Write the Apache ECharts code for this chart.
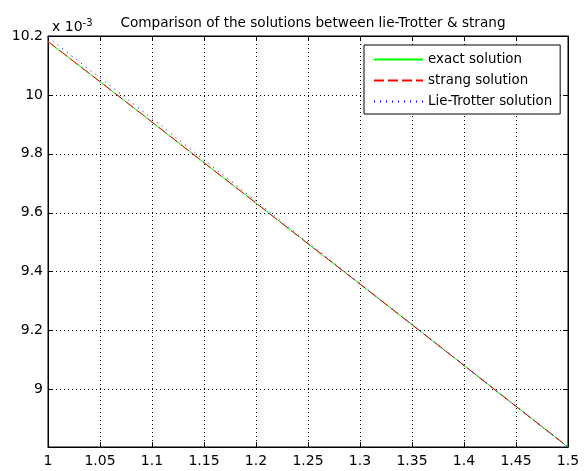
<!DOCTYPE html>
<html>
<head>
<meta charset="utf-8">
<script src="https://cdn.jsdelivr.net/npm/echarts@6/dist/echarts.min.js"></script>
<style>
html,body{margin:0;padding:0;background:#fff;}
#chart{width:587px;height:471px;}
</style>
</head>
<body>
<div id="chart"></div>
<script>
// x values
var xValues = [1, 1.05, 1.1, 1.15, 1.2, 1.25, 1.3, 1.35, 1.4, 1.45, 1.5];
// values in units of 1e-3
var exactSolution = [10.181, 10.045, 9.908, 9.770, 9.633, 9.495, 9.358, 9.220, 9.082, 8.943, 8.805];
var strangSolution = [10.181, 10.045, 9.908, 9.770, 9.633, 9.495, 9.358, 9.220, 9.082, 8.943, 8.805];
var lieTrotterSolution = [10.195, 10.058, 9.920, 9.780, 9.640, 9.499, 9.360, 9.221, 9.082, 8.943, 8.805];
var seriesNames = ['exact solution', 'strang solution', 'Lie-Trotter solution'];
var titleText = 'Comparison of the solutions between lie-Trotter & strang';

function pairs(ys) { return xValues.map(function (x, i) { return [x, ys[i]]; }); }

var FONT = 'DejaVu Sans, sans-serif';
var chart = echarts.init(document.getElementById('chart'), null, {renderer: 'canvas'});
var dotted = {show: true, lineStyle: {color: '#000', width: 1, type: [1, 3]}};

chart.setOption({
  animation: false,
  backgroundColor: '#fff',
  title: [
    {text: titleText, left: 308, textAlign: 'center', top: 11,
     textStyle: {fontFamily: FONT, fontSize: 13.6, fontWeight: 'normal', color: '#000'}},
    {text: 'x 10{sup|-3}', left: 47, top: 13,
     textStyle: {fontFamily: FONT, fontSize: 14, fontWeight: 'normal', color: '#000',
       rich: {sup: {fontFamily: FONT, fontSize: 10, color: '#000', verticalAlign: 'top', padding: [0, 0, 8, 0]}}}}
  ],
  grid: {left: 48, right: 19, top: 36, bottom: 24, show: true, borderColor: '#000', borderWidth: 1, backgroundColor: '#fff'},
  legend: {
    orient: 'vertical', left: 364, top: 45,
    padding: [8, 8, 6, 9], itemGap: 8, itemWidth: 49, itemHeight: 14,
    backgroundColor: '#fff', borderColor: '#000', borderWidth: 1,
    itemStyle: {opacity: 0},
    textStyle: {fontFamily: FONT, fontSize: 13.4, color: '#000'},
    data: seriesNames
  },
  xAxis: [
    {type: 'value', min: 1, max: 1.5, interval: 0.05, position: 'bottom',
     axisLine: {show: true, onZero: false, lineStyle: {color: '#000'}},
     axisTick: {show: true, inside: true, length: 5, lineStyle: {color: '#000'}},
     axisLabel: {margin: 7, fontFamily: FONT, fontSize: 14, color: '#000'},
     splitLine: dotted},
    {type: 'value', min: 1, max: 1.5, interval: 0.05, position: 'top',
     axisLine: {show: true, onZero: false, lineStyle: {color: '#000'}},
     axisTick: {show: true, inside: true, length: 5, lineStyle: {color: '#000'}},
     axisLabel: {show: false}, splitLine: {show: false}}
  ],
  yAxis: [
    {type: 'value', min: 8.805, max: 10.2, splitNumber: 7, position: 'left',
     axisLine: {show: true, onZero: false, lineStyle: {color: '#000'}},
     axisTick: {show: true, inside: true, length: 5, lineStyle: {color: '#000'}},
     axisLabel: {margin: 5, showMinLabel: false, fontFamily: FONT, fontSize: 14, color: '#000'},
     splitLine: dotted},
    {type: 'value', min: 8.805, max: 10.2, splitNumber: 7, position: 'right',
     axisLine: {show: true, onZero: false, lineStyle: {color: '#000'}},
     axisTick: {show: true, inside: true, length: 5, lineStyle: {color: '#000'}},
     axisLabel: {show: false}, splitLine: {show: false}}
  ],
  series: [
    {name: seriesNames[0], type: 'line', data: pairs(exactSolution), symbol: 'none',
     lineStyle: {color: '#00ff00', width: 1, type: 'solid'}, itemStyle: {color: '#00ff00'}},
    {name: seriesNames[1], type: 'line', data: pairs(strangSolution), symbol: 'none',
     lineStyle: {color: '#ff0000', width: 1, type: [10, 4]}, itemStyle: {color: '#ff0000'}},
    {name: seriesNames[2], type: 'line', data: pairs(lieTrotterSolution), symbol: 'none',
     lineStyle: {color: '#0000ff', width: 1, type: [1, 5]}, itemStyle: {color: '#0000ff'}}
  ]
});
</script>
</body>
</html>
